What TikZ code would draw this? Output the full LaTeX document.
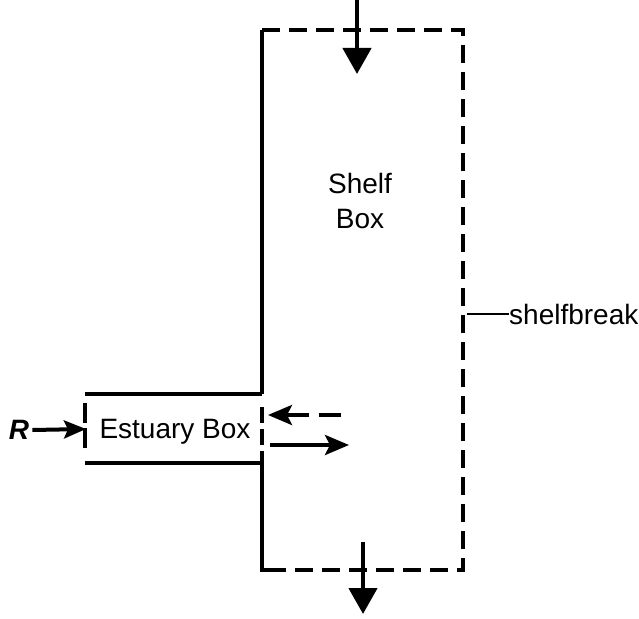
\documentclass[tikz,border=0pt]{standalone}
\usepackage{fontspec}
\setmainfont{Liberation Sans}
\usetikzlibrary{arrows.meta}
\begin{document}
\begin{tikzpicture}[x=1pt,y=-1pt,
  wall/.style={line width=4pt, line cap=butt, line join=miter},
  open/.style={line width=4pt, dash pattern=on 18pt off 9pt},
  flux/.style={line width=4.5pt, -{Triangle[length=26pt,width=28pt]}},
  hflux/.style={line width=4pt, -{Stealth[length=24pt,width=20pt,inset=5pt]}},
  lbl/.style={font=\fontsize{28}{35}\selectfont, inner sep=0pt}]
\useasboundingbox (0,0) rectangle (639,618);
% corners
\coordinate (tl) at (262,30);
\coordinate (tr) at (463,30);
\coordinate (br) at (463,570);
\coordinate (bl) at (262,570);
\coordinate (et) at (262,394);
\coordinate (eb) at (262,463);
\coordinate (elt) at (85,394);
\coordinate (elb) at (85,463);
% shelf box solid wall
\draw[wall] (et) -- (tl);
\draw[wall] (elt) -- (et);
\draw[wall] (elb) -- (eb) -- (bl) -- (282,570);
% open boundaries
\draw[open] (tl) -- (tr) -- (br) -- (bl);
\draw[open, dash pattern=on 20pt off 5pt] (85,403) -- (85,451);
\draw[open, dash pattern=on 16pt off 6pt] (262,407) -- (262,462);
% labels
\node[lbl, align=center] (shelf) at (360,201) {Shelf\\Box};
\node[lbl] (est) at (175,432) {Estuary Box};
\node[lbl, anchor=west] (sb) at (509,314) {shelfbreak};
\node[lbl, font=\fontsize{28}{35}\selectfont\bfseries\itshape] (R) at (19,430) {R};
% connectors
\coordinate (sbw) at (467,314);
\draw[line width=2pt] (sbw) -- (sb.west);
\coordinate (topa) at (357,0);
\coordinate (topb) at (357,74);
\draw[flux] (topa) -- (topb);
\coordinate (bota) at (363,542);
\coordinate (botb) at (363,614);
\draw[flux] (bota) -- (botb);
\coordinate (rtip) at (86,429);
\draw[hflux, -{Stealth[length=22pt,width=18pt,inset=4pt]}] (R.east) ++(3,0) -- (rtip);
\coordinate (ina) at (341,415);
\coordinate (inb) at (268,415);
\draw[hflux, dash pattern=on 22pt off 10pt] (ina) -- (inb);
\coordinate (outa) at (270,445);
\coordinate (outb) at (349,445);
\draw[hflux] (outa) -- (outb);
\end{tikzpicture}
\end{document}
